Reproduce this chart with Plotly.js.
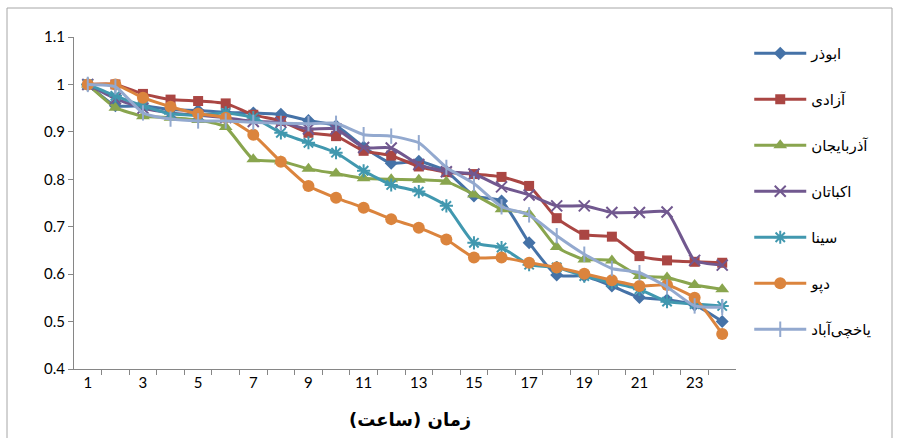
<!DOCTYPE html>
<html>
<head>
<meta charset="utf-8">
<script src="https://cdn.plot.ly/plotly-3.0.1.min.js"></script>
<style>html,body{margin:0;padding:0;background:#fff;}#chart{width:899px;height:438px;}</style>
</head>
<body>
<div id="chart"></div>
<script>
const hours = [1,2,3,4,5,6,7,8,9,10,11,12,13,14,15,16,17,18,19,20,21,22,23,24];
const xTickLabels = [1,3,5,7,9,11,13,15,17,19,21,23];
const boundaryTicks = [1.5,2.5,3.5,4.5,5.5,6.5,7.5,8.5,9.5,10.5,11.5,12.5,13.5,14.5,15.5,16.5,17.5,18.5,19.5,20.5,21.5,22.5,23.5];
const xTitle = 'زمان (ساعت)';

const seriesNames = ['ابوذر','آزادی','آذربایجان','اکباتان','سینا','دپو','یاخچی‌آباد'];

const abuzar   = [1.0,0.955,0.955,0.947,0.945,0.941,0.940,0.937,0.924,0.913,0.868,0.834,0.838,0.817,0.765,0.754,0.666,0.598,0.596,0.575,0.551,0.546,0.535,0.500];
const azadi    = [1.0,1.0,0.980,0.968,0.965,0.960,0.936,0.923,0.898,0.891,0.860,0.850,0.827,0.815,0.811,0.805,0.786,0.718,0.683,0.679,0.638,0.629,0.626,0.624];
const azarbaijan = [1.0,0.951,0.933,0.930,0.925,0.910,0.842,0.838,0.822,0.812,0.802,0.800,0.799,0.795,0.768,0.737,0.727,0.657,0.631,0.629,0.596,0.593,0.577,0.568];
const ekbatan  = [1.0,0.970,0.950,0.940,0.935,0.930,0.922,0.920,0.906,0.906,0.867,0.866,0.831,0.816,0.811,0.784,0.767,0.744,0.744,0.730,0.730,0.731,0.629,0.619];
const sina     = [1.0,0.976,0.955,0.938,0.935,0.940,0.930,0.898,0.877,0.856,0.818,0.788,0.774,0.744,0.666,0.656,0.620,0.614,0.596,0.582,0.568,0.542,0.537,0.533];
const depo     = [1.0,1.0,0.972,0.953,0.938,0.930,0.894,0.837,0.786,0.761,0.740,0.716,0.698,0.673,0.635,0.635,0.624,0.614,0.601,0.587,0.575,0.577,0.550,0.474];
const yakhchi  = [1.0,0.995,0.940,0.927,0.923,0.923,0.920,0.918,0.917,0.918,0.894,0.891,0.877,0.825,0.791,0.742,0.725,0.681,0.642,0.612,0.603,0.573,0.533,0.530];

const seriesValues = [abuzar, azadi, azarbaijan, ekbatan, sina, depo, yakhchi];
const colors = ['#4572A7','#AA4643','#89A54E','#71588F','#4198AF','#DB843D','#93A9CF'];
const symbols = ['diamond','square','triangle-up','x-thin','asterisk','circle','line-ns'];
const sizes = [10,10,12,11,11,12,11];

const arabicFont = '"DejaVu Sans", "Noto Sans", sans-serif';
const numFont = 'Lato, "Open Sans", sans-serif';

const traces = seriesValues.map((vals, i) => {
  const lineSym = (symbols[i] === 'x-thin' || symbols[i] === 'asterisk' || symbols[i] === 'line-ns');
  return {
    type: 'scatter',
    mode: 'lines+markers',
    name: seriesNames[i],
    legendgroup: 'g' + i,
    x: hours,
    y: vals,
    line: {color: colors[i], width: 3, shape: 'spline', smoothing: 0.5},
    marker: {
      symbol: symbols[i],
      size: sizes[i],
      color: colors[i],
      line: lineSym ? {color: colors[i], width: 2} : {width: 0}
    }
  };
});

const pxToPaperX = px => (px - 74) / 662;
const pxToPaperY = py => (369 - py) / 332;

const layout = {
  width: 899,
  height: 438,
  margin: {l: 74, r: 163, t: 37, b: 69},
  paper_bgcolor: '#ffffff',
  plot_bgcolor: '#ffffff',
  showlegend: true,
  legend: {
    x: 1.02, xanchor: 'left',
    y: pxToPaperY(37), yanchor: 'top',
    traceorder: 'grouped',
    tracegroupgap: 23.5,
    itemwidth: 52,
    font: {family: arabicFont, size: 15, color: '#000'},
    bgcolor: 'rgba(0,0,0,0)'
  },
  xaxis: {
    type: 'linear',
    range: [0.5, 24.5],
    tickvals: xTickLabels,
    ticktext: xTickLabels.map(String),
    ticks: '',
    showgrid: false,
    zeroline: false,
    showline: true,
    linecolor: '#868686',
    linewidth: 1,
    tickfont: {family: numFont, size: 15, color: '#000'},
    minor: {tickvals: boundaryTicks, ticks: 'outside', ticklen: 5, tickcolor: '#868686', tickwidth: 1, showgrid: false}
  },
  yaxis: {
    range: [0.4, 1.1],
    dtick: 0.1,
    tick0: 0.4,
    ticks: 'outside',
    ticklen: 5,
    tickcolor: '#868686',
    showgrid: false,
    zeroline: false,
    showline: true,
    linecolor: '#868686',
    linewidth: 1,
    tickfont: {family: numFont, size: 15, color: '#000'}
  },
  annotations: [{
    text: '<b>' + xTitle + '</b>',
    xref: 'paper', yref: 'paper',
    x: pxToPaperX(410), y: pxToPaperY(420),
    xanchor: 'center', yanchor: 'middle',
    showarrow: false,
    font: {family: arabicFont, size: 18, color: '#000'}
  }],
  shapes: [{
    type: 'rect', xref: 'paper', yref: 'paper',
    x0: pxToPaperX(7), x1: pxToPaperX(892),
    y0: pxToPaperY(440), y1: pxToPaperY(8),
    line: {color: '#a6a6a6', width: 1}, fillcolor: 'rgba(0,0,0,0)', layer: 'below'
  }]
};

Plotly.newPlot('chart', traces, layout, {displayModeBar: false, staticPlot: true});
</script>
</body>
</html>
